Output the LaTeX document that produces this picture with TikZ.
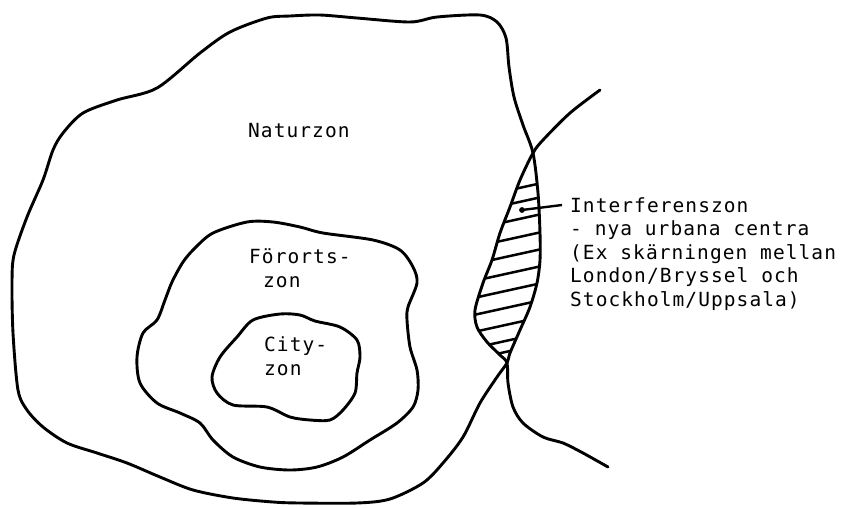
\documentclass[tikz,border=0pt]{standalone}
\usepackage{fontspec}
\newfontfamily\typewriter[LetterSpace=5.5]{DejaVu Sans Mono}

\begin{document}
\begin{tikzpicture}[
  zoneline/.style={line width=2.9pt, draw=black, line cap=round, line join=round},
  hatchline/.style={line width=2.5pt, draw=black, line cap=round},
  pointer/.style={line width=2.4pt, draw=black},
  zonelabel/.style={font=\typewriter\fontsize{19.5}{23.5}\selectfont, anchor=base west, inner sep=0pt, align=left},
  x=1pt, y=-1pt  % scan pixel scale (846x507); y pre-flipped
]
\useasboundingbox (0,0) rectangle (846,507);

% ---------- hatching of the overlap ----------
\begin{scope}
  \clip plot[smooth cycle] coordinates {
    (533,153) (538,193) (540,233) (540,260) (537,283) (530,307) (520,330) (510,353)
    (507,363) (500,355) (487,342) (477,327) (475,310) (483,283) (492,260) (500,233)
    (510,207) (520,180)};
  \foreach \yc in {190,204,221,239,256,273,290,307,324,340,351}
    \draw[hatchline] (460,{\yc+11}) -- (560,{\yc-11});
\end{scope}

% ---------- Naturzon (outer city) ----------
\draw[zoneline] plot[smooth cycle] coordinates {
  (290,16) (320,15) (357,18) (410,22) (437,17) (480,15) (497,22) (506,38)
  (509,67) (514,97) (523,125) (533,153) (538,193) (540,233) (540,260) (537,283)
  (530,307) (520,330) (510,353) (507,363) (497,377) (480,403) (463,437) (443,463)
  (423,483) (390,499) (357,503) (300,503) (273,502) (233,498) (193,490) (160,477)
  (127,463) (97,453) (67,443) (43,427) (27,410) (18,390) (13,333) (12,283)
  (14,255) (27,217) (43,180) (53,150) (63,133) (83,113) (117,100) (157,88)
  (200,53) (230,32) (267,18)};

% ---------- neighbouring city, open to the right ----------
\draw[zoneline] plot[smooth] coordinates {
  (600,90) (570,113) (543,140) (533,153) (520,180) (510,207) (500,233) (492,260)
  (483,283) (475,310) (477,327) (487,342) (500,355) (507,363) (508,383) (513,407)
  (523,423) (543,437) (563,443) (583,453) (608,467)};

% ---------- Förortszon ----------
\draw[zoneline] plot[smooth cycle] coordinates {
  (213,233) (247,222) (273,222) (300,227) (323,233) (373,240) (400,250) (413,267)
  (417,283) (408,307) (407,320) (410,347) (417,370) (418,390) (413,407) (397,423)
  (370,440) (343,457) (317,467) (290,470) (260,467) (233,457) (213,440) (200,423)
  (180,413) (157,403) (140,383) (137,357) (143,333) (157,320) (165,300) (172,282)
  (183,262) (195,248)};

% ---------- Cityzon ----------
\draw[zoneline] plot[smooth cycle] coordinates {
  (253,320) (280,314) (300,315) (315,321) (340,327) (357,340) (360,357) (357,373)
  (355,393) (343,410) (330,420) (310,420) (290,417) (267,407) (233,405) (217,393)
  (212,377) (220,357) (237,337)};

% ---------- labels (base = last line) ----------
\node[zonelabel] (natur) at (248,137) {Naturzon};
\node[zonelabel] (fororts) at (249,287) {Förorts-\\\hspace*{14pt}zon};
\node[zonelabel] (city) at (264,375) {City-\\zon};
\node[zonelabel] (interf) at (570,306)
  {Interferenszon\\- nya urbana centra\\(Ex skärningen mellan\\London/Bryssel och\\Stockholm/Uppsala)};

\coordinate (dot) at (522,210);
\fill (dot) circle (2.9);
\draw[pointer] (dot) -- ([shift={(-8,8)}]interf.north west);

\end{tikzpicture}
\end{document}
